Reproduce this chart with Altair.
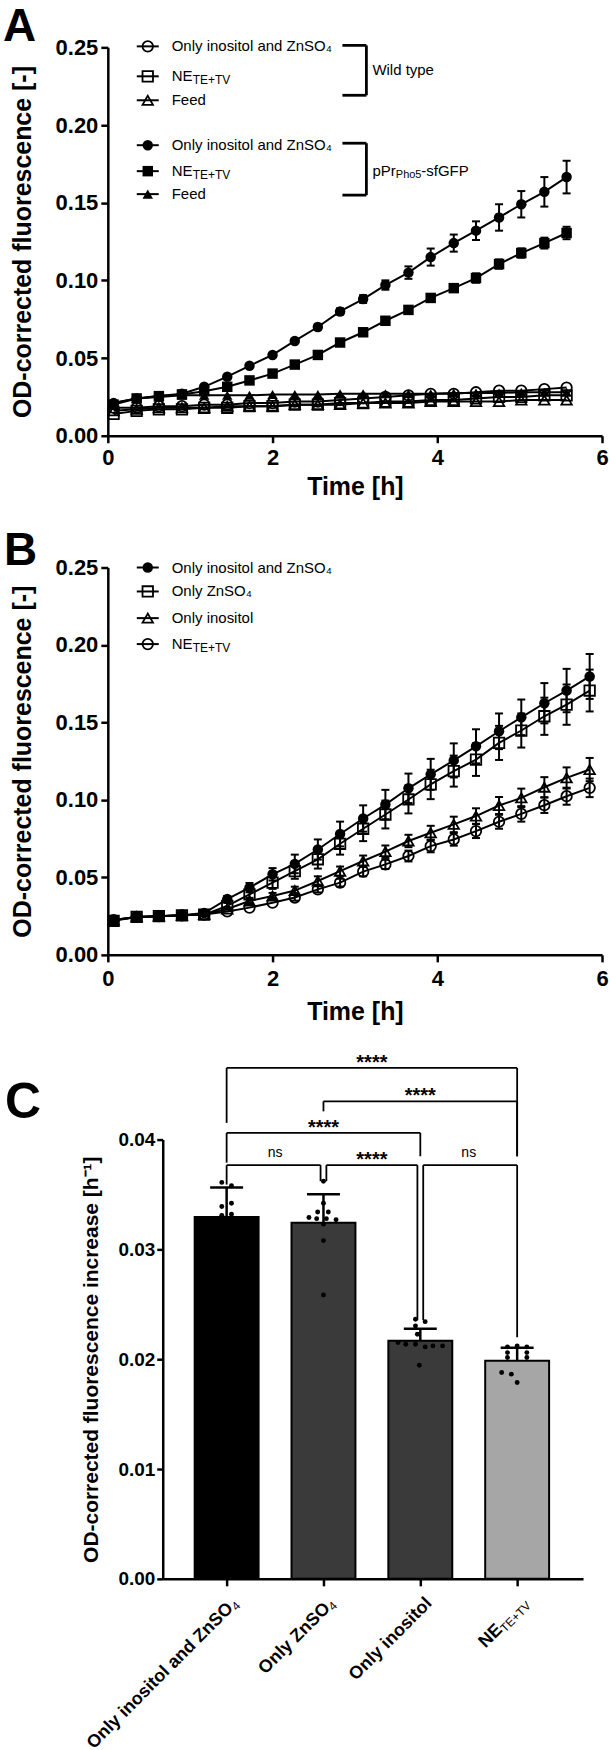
import altair as alt
import pandas as pd

FONT = "Liberation Sans"
INK = "#000000"
CAP = "M-1,0L1,0"

# ---------------- Panel A data ----------------
times_a = [0.07, 0.35, 0.62, 0.90, 1.17, 1.45, 1.72, 2.00, 2.27, 2.55, 2.82,
           3.10, 3.37, 3.65, 3.92, 4.20, 4.47, 4.75, 5.02, 5.30, 5.57]
a_keys = ["wt_iz", "wt_ne", "wt_feed", "gfp_iz", "gfp_ne", "gfp_feed"]
a_shapes = ["circle", "square", "triangle-up", "circle", "square", "triangle-up"]
a_filled = [False, False, False, True, True, True]
a_wt_iz = [0.018, 0.018, 0.019, 0.019, 0.020, 0.020, 0.021, 0.021, 0.022, 0.022, 0.023,
           0.024, 0.025, 0.026, 0.027, 0.027, 0.028, 0.029, 0.029, 0.030, 0.031]
a_wt_ne = [0.014, 0.016, 0.017, 0.017, 0.018, 0.018, 0.019, 0.019, 0.020, 0.020, 0.021,
           0.021, 0.022, 0.022, 0.023, 0.023, 0.024, 0.025, 0.025, 0.026, 0.026]
a_wt_feed = [0.016, 0.017, 0.018, 0.018, 0.018, 0.019, 0.019, 0.019, 0.020, 0.020, 0.020,
             0.021, 0.021, 0.021, 0.022, 0.022, 0.022, 0.022, 0.023, 0.023, 0.023]
a_gfp_iz = [0.021, 0.024, 0.0255, 0.027, 0.0315, 0.038, 0.045, 0.052, 0.061, 0.070, 0.080,
            0.088, 0.097, 0.105, 0.115, 0.124, 0.132, 0.1405, 0.149, 0.157, 0.1665]
a_gfp_ne = [0.020, 0.024, 0.0255, 0.0266, 0.0287, 0.0315, 0.0356, 0.040, 0.0458, 0.052, 0.060,
            0.0666, 0.074, 0.081, 0.0887, 0.095, 0.1015, 0.1105, 0.1176, 0.124, 0.1305]
a_gfp_feed = [0.021, 0.024, 0.025, 0.026, 0.026, 0.026, 0.026, 0.0265, 0.0265, 0.0265, 0.027,
              0.027, 0.027, 0.027, 0.027, 0.0275, 0.0275, 0.0275, 0.028, 0.028, 0.028]
a_err_wt = [0.0008, 0.0008, 0.0008, 0.0008, 0.0008, 0.0008, 0.0008, 0.0008, 0.0008, 0.0008, 0.0008,
            0.0008, 0.0008, 0.0008, 0.0008, 0.0008, 0.0008, 0.0008, 0.0008, 0.0008, 0.0008]
a_err_gfp_iz = [0.001, 0.001, 0.001, 0.001, 0.001, 0.001, 0.001, 0.0015, 0.0015, 0.002, 0.002,
                0.0025, 0.003, 0.004, 0.0055, 0.0055, 0.006, 0.0085, 0.0085, 0.0095, 0.0105]
a_err_gfp_ne = [0.001, 0.001, 0.001, 0.001, 0.001, 0.001, 0.001, 0.001, 0.001, 0.0015, 0.0015,
                0.0015, 0.002, 0.002, 0.002, 0.0025, 0.003, 0.003, 0.003, 0.0035, 0.004]

# ---------------- Panel B data ----------------
times_b = [0.07, 0.35, 0.62, 0.90, 1.17, 1.45, 1.72, 2.00, 2.27, 2.55, 2.82,
           3.10, 3.37, 3.65, 3.92, 4.20, 4.47, 4.75, 5.02, 5.30, 5.57, 5.85]
b_keys = ["iz", "zn", "inos", "ne"]
b_shapes = ["circle", "square", "triangle-up", "circle"]
b_filled = [True, False, False, False]
b_iz = [0.0225, 0.0245, 0.025, 0.0255, 0.027, 0.036, 0.0434, 0.052, 0.0587, 0.068, 0.078,
        0.088, 0.097, 0.1075, 0.1165, 0.1255, 0.1346, 0.1443, 0.1533, 0.1624, 0.1706, 0.1797]
b_zn = [0.022, 0.0245, 0.025, 0.0255, 0.026, 0.0316, 0.039, 0.0466, 0.0541, 0.0617, 0.0717,
        0.0814, 0.0906, 0.1003, 0.11, 0.1186, 0.126, 0.1368, 0.1448, 0.154, 0.1615, 0.1706]
b_inos = [0.0225, 0.0245, 0.025, 0.0255, 0.026, 0.0296, 0.0348, 0.038, 0.0415, 0.0477, 0.054,
          0.0606, 0.0666, 0.0735, 0.0788, 0.0842, 0.0896, 0.0964, 0.1013, 0.1082, 0.1142, 0.1196]
b_ne = [0.0225, 0.0245, 0.025, 0.0255, 0.026, 0.028, 0.0305, 0.0337, 0.037, 0.0423, 0.0466,
        0.0537, 0.0584, 0.0638, 0.0702, 0.0745, 0.0799, 0.0859, 0.091, 0.0966, 0.1024, 0.1078]
b_err_iz = [0.001, 0.001, 0.001, 0.001, 0.001, 0.002, 0.003, 0.004, 0.006, 0.0065, 0.008,
            0.0085, 0.0095, 0.0095, 0.01, 0.011, 0.011, 0.0115, 0.0115, 0.013, 0.014, 0.0145]
b_err_zn = [0.001, 0.001, 0.001, 0.001, 0.001, 0.002, 0.003, 0.004, 0.005, 0.006, 0.007,
            0.008, 0.009, 0.009, 0.0095, 0.01, 0.0105, 0.011, 0.011, 0.012, 0.013, 0.0135]
b_err_inos = [0.001, 0.001, 0.001, 0.001, 0.001, 0.0015, 0.002, 0.002, 0.0025, 0.003, 0.003,
              0.0035, 0.004, 0.004, 0.0045, 0.005, 0.005, 0.0055, 0.006, 0.0065, 0.0068, 0.0075]
b_err_ne = [0.001, 0.001, 0.001, 0.001, 0.001, 0.001, 0.0015, 0.0015, 0.002, 0.002, 0.0025,
            0.003, 0.003, 0.0035, 0.004, 0.004, 0.0045, 0.0045, 0.005, 0.005, 0.0055, 0.006]

# ---------------- Panel C data ----------------
c_pos = [0, 1, 2, 3]
c_main_labels = ["Only inositol and ZnSO", "Only ZnSO", "Only inositol", "NE"]
c_sub_labels = ["4", "4", "", "TE+TV"]
c_mean = [0.03294, 0.03243, 0.02167, 0.01985]
c_sd = [0.0027, 0.0026, 0.0011, 0.0012]
c_fill = ["#000000", "#3a3a3a", "#3a3a3a", "#a6a6a6"]
c_pt_group = [0, 0, 0, 0, 0, 0,
              1, 1, 1, 1, 1, 1, 1, 1, 1, 1, 1,
              2, 2, 2, 2, 2, 2, 2, 2, 2, 2, 2,
              3, 3, 3, 3, 3, 3, 3, 3, 3, 3]
c_pt_jit = [-0.05, 0.05, -0.05, 0.05, -0.05, 0.05,
            0.0, 0.0, -0.06, 0.05, -0.15, -0.07, 0.03, 0.13, 0.0, 0.0, 0.0,
            -0.05, 0.05, -0.05, -0.03, -0.23, -0.15, -0.05, 0.05, 0.13, 0.23, -0.01,
            -0.1, 0.0, 0.1, -0.1, 0.1, -0.1, 0.1, -0.16, -0.06, 0.0]
c_pt_val = [0.0361, 0.0358, 0.0339, 0.0342, 0.0331, 0.0332,
            0.0362, 0.0342, 0.0334, 0.0334, 0.0329, 0.0328, 0.0328, 0.0327, 0.0323, 0.0308, 0.02585,
            0.02364, 0.02342, 0.02303, 0.02227, 0.02152, 0.02136, 0.02136, 0.02112, 0.02121, 0.02121, 0.01945,
            0.02112, 0.0212, 0.02112, 0.0206, 0.0206, 0.02015, 0.02015, 0.01879, 0.01864, 0.01788]
# significance brackets: groups compared, heights
br_from = [0, 1, 0, 0, 1, 2]
br_to = [3, 3, 2, 1, 2, 3]
br_in_l = [0, 0, 0, 0, 0.03, 0.03]
br_in_r = [0, 0, 0, 0.03, 0.03, 0]
br_top = [0.04652, 0.04348, 0.04061, 0.03767, 0.03767, 0.03767]
br_left_end = [0.04152, 0.04257, 0.0379, 0.0359, 0.03621, 0.02355]
br_right_end = [0.03848, 0.03848, 0.03848, 0.03621, 0.02355, 0.0220]
br_text = ["****", "****", "****", "ns", "****", "ns"]

ONE = pd.DataFrame({"k": [0]})


def txt(text, x, y, size, weight="normal", align="left", baseline="middle",
        angle=0, dx=0, dy=0, use_datum=False):
    if use_datum:
        ex, ey = alt.XDatum(x), alt.YDatum(y)
    else:
        ex, ey = alt.value(x), alt.value(y)
    return alt.Chart(ONE).mark_text(
        font=FONT, fontSize=size, fontWeight=weight, align=align, baseline=baseline,
        angle=angle, dx=dx, dy=dy, color=INK
    ).encode(x=ex, y=ey, text=alt.value(text))


def seg(x1, y1, x2, y2, w=2.8):
    return alt.Chart(ONE).mark_rule(color=INK, strokeWidth=w).encode(
        x=alt.value(x1), x2=alt.value(x2), y=alt.value(y1), y2=alt.value(y2))


def sym(shape, filled, x, y):
    return alt.Chart(ONE).mark_point(
        shape=shape, filled=filled, size=110, color=INK, strokeWidth=1.8, opacity=1
    ).encode(x=alt.value(x), y=alt.value(y))


def series_df(times, keys, vals, errs, filled):
    rows = []
    for k, vs, es, f in zip(keys, vals, errs, filled):
        for t, v, e in zip(times, vs, es):
            rows.append(dict(t=t, v=v, lo=v - e, hi=v + e, key=k, filled=f))
    return pd.DataFrame(rows)


def legend_rows(labels, subs, shapes, filled, ys):
    out = []
    for lab, sub, shp, f, y in zip(labels, subs, shapes, filled, ys):
        out.append(seg(29, y, 51, y, 2))
        out.append(sym(shp, f, 40, y))
        out.append(txt(lab, 64, y, 15))
        if sub:
            out.append(txt(sub, 85, y + 4, 12))
    return out


def line_panel(df, keys, shapes, height, xpad, xtitle_y, decorations):
    xsc = alt.Scale(domain=[0, 6], nice=False, zero=False)
    ysc = alt.Scale(domain=[0, 0.25], nice=False)
    common = dict(grid=False, labelFont=FONT, labelFontWeight="bold", labelColor=INK,
                  labelFlush=False, tickWidth=2.5, tickColor=INK, tickSize=7,
                  domainColor=INK, domainWidth=2.5, titleFont=FONT, titleFontWeight="bold",
                  titleColor=INK, titleFontSize=25, titleBaseline="middle", titleAlign="center")
    xax = alt.Axis(values=[0, 2, 4, 6], format="d", title="Time [h]", labelFontSize=22,
                   labelPadding=xpad, titleX=247.5, titleY=xtitle_y, **common)
    yax = alt.Axis(values=[0, 0.05, 0.10, 0.15, 0.20, 0.25], format=".2f",
                   title="OD-corrected fluorescence [-]", labelFontSize=22, labelPadding=3,
                   titleX=-85, titleY=height / 2, titleAngle=270, **common)
    base = alt.Chart(df)
    shape_enc = alt.Shape("key:N", scale=alt.Scale(domain=keys, range=shapes), legend=None)
    lines = base.mark_line(color=INK, strokeWidth=2).encode(
        x=alt.X("t:Q", scale=xsc, axis=xax), y=alt.Y("v:Q", scale=ysc, axis=yax), detail="key:N")
    big = base.transform_filter("datum.hi - datum.lo > 0.0035")
    err = big.mark_rule(color=INK, strokeWidth=2).encode(x="t:Q", y="lo:Q", y2="hi:Q")
    cap_hi = big.mark_point(shape=CAP, size=64, filled=False, color=INK, strokeWidth=2,
                            opacity=1).encode(x="t:Q", y="hi:Q")
    cap_lo = big.mark_point(shape=CAP, size=64, filled=False, color=INK, strokeWidth=2,
                            opacity=1).encode(x="t:Q", y="lo:Q")
    open_pts = base.transform_filter("!datum.filled").mark_point(
        filled=False, size=110, color=INK, strokeWidth=1.8, opacity=1
    ).encode(x="t:Q", y="v:Q", shape=shape_enc)
    fill_pts = base.transform_filter("datum.filled").mark_point(
        filled=True, size=110, color=INK, opacity=1
    ).encode(x="t:Q", y="v:Q", shape=shape_enc)
    return alt.layer(lines, err, cap_hi, cap_lo, open_pts, fill_pts, *decorations).properties(
        width=495, height=height)


# ---------------- Panel A ----------------
df_a = series_df(times_a, a_keys,
                 [a_wt_iz, a_wt_ne, a_wt_feed, a_gfp_iz, a_gfp_ne, a_gfp_feed],
                 [a_err_wt, a_err_wt, a_err_wt, a_err_gfp_iz, a_err_gfp_ne, a_err_wt],
                 a_filled)
a_leg_labels = ["Only inositol and ZnSO₄", "NE", "Feed", "Only inositol and ZnSO₄", "NE", "Feed"]
a_leg_subs = ["", "TE+TV", "", "", "TE+TV", ""]
deco_a = [txt("A", -105, -6, 46, "bold", baseline="alphabetic")]
deco_a += legend_rows(a_leg_labels, a_leg_subs, a_shapes, a_filled, [-1, 29, 53, 98, 124, 147])
deco_a += [seg(235, -2, 259, -2), seg(259, -2, 259, 48), seg(235, 48, 259, 48),
           seg(235, 96, 259, 96), seg(259, 96, 259, 148), seg(235, 148, 259, 148),
           txt("Wild type", 265, 23, 15),
           txt("pPr", 265, 124, 15), txt("Pho5", 288.5, 128, 11), txt("-sfGFP", 314, 124, 15)]
panel_a = line_panel(df_a, a_keys, a_shapes, 389, 4.5, 50.5, deco_a)

# ---------------- Panel B ----------------
df_b = series_df(times_b, b_keys, [b_iz, b_zn, b_inos, b_ne],
                 [b_err_iz, b_err_zn, b_err_inos, b_err_ne], b_filled)
b_leg_labels = ["Only inositol and ZnSO₄", "Only ZnSO₄", "Only inositol", "NE"]
b_leg_subs = ["", "", "", "TE+TV"]
deco_b = [txt("B", -104, -3, 46, "bold", baseline="alphabetic")]
deco_b += legend_rows(b_leg_labels, b_leg_subs, b_shapes, b_filled, [0, 24, 50.7, 76.7])
panel_b = line_panel(df_b, b_keys, b_shapes, 388, 7, 56.5, deco_b)

# ---------------- Panel C ----------------
xsc_c = alt.Scale(domain=[-0.6598, 3.6804], range=[55, 476], nice=False, zero=False)
ysc_c = alt.Scale(domain=[0, 0.04], nice=False)
xax_c = alt.Axis(values=[0, 1, 2, 3], labels=False, title="", grid=False, tickSize=7,
                 tickWidth=2.5, tickColor=INK, domainColor=INK, domainWidth=2.5)
yax_c = alt.Axis(values=[0, 0.01, 0.02, 0.03, 0.04], format=".2f", offset=-55, grid=False,
                 labelFont=FONT, labelFontSize=19, labelFontWeight="bold", labelColor=INK,
                 labelPadding=2, tickSize=6, tickWidth=2.5, tickColor=INK,
                 domainColor=INK, domainWidth=2.5,
                 title="OD-corrected fluorescence increase [h⁻¹]", titleFont=FONT,
                 titleFontSize=21, titleFontWeight="bold", titleColor=INK,
                 titleX=-71.5, titleY=220, titleAngle=270, titleBaseline="middle",
                 titleAlign="center")

df_c = pd.DataFrame({"pos": c_pos, "mean": c_mean, "sd": c_sd, "fill": c_fill})
bars = alt.Chart(df_c).transform_calculate(
    x1="datum.pos - 0.33", x2="datum.pos + 0.33", zero="0"
).mark_rect(stroke=INK, strokeWidth=2).encode(
    x=alt.X("x1:Q", scale=xsc_c, axis=xax_c), x2="x2:Q",
    y=alt.Y("mean:Q", scale=ysc_c, axis=yax_c), y2="zero:Q",
    color=alt.Color("fill:N", scale=None))
err_c = alt.Chart(df_c).transform_calculate(top="datum.mean + datum.sd").mark_rule(
    color=INK, strokeWidth=2.5).encode(x="pos:Q", y="mean:Q", y2="top:Q")
cap_c = alt.Chart(df_c).transform_calculate(top="datum.mean + datum.sd").mark_point(
    shape=CAP, size=1089, filled=False, color=INK, strokeWidth=2.5, opacity=1
).encode(x="pos:Q", y="top:Q")

df_pts = pd.DataFrame({"g": c_pt_group, "j": c_pt_jit, "v": c_pt_val})
pts_c = alt.Chart(df_pts).transform_calculate(px="datum.g + datum.j").mark_circle(
    size=24, color=INK, opacity=1).encode(x="px:Q", y="v:Q")

df_br = pd.DataFrame({"a": br_from, "b": br_to, "il": br_in_l, "ir": br_in_r,
                      "top": br_top, "le": br_left_end, "re": br_right_end, "lab": br_text})
br_base = alt.Chart(df_br).transform_calculate(
    xa="datum.a + datum.il", xb="datum.b - datum.ir", xm="(datum.a + datum.b) / 2")
br_h = br_base.mark_rule(color=INK, strokeWidth=1.8).encode(x="xa:Q", x2="xb:Q", y="top:Q")
br_l = br_base.mark_rule(color=INK, strokeWidth=1.8).encode(x="xa:Q", y="top:Q", y2="le:Q")
br_r = br_base.mark_rule(color=INK, strokeWidth=1.8).encode(x="xb:Q", y="top:Q", y2="re:Q")
br_star = br_base.transform_filter("datum.lab == '****'").mark_text(
    font=FONT, fontSize=20, fontWeight="bold", align="center", baseline="alphabetic",
    dy=1, color=INK).encode(x="xm:Q", y="top:Q", text="lab:N")
br_ns = br_base.transform_filter("datum.lab == 'ns'").mark_text(
    font=FONT, fontSize=14, align="center", baseline="alphabetic", dy=-8, color=INK
).encode(x="xm:Q", y="top:Q", text="lab:N")

# rotated category labels (angle -45 deg), anchored below each tick
DX0, DY0 = -9.2, 21.9
c_sub_w = [7.0, 7.0, 0, 37.5]
c_sub_size = [12, 12, 12, 12]
lab_layers = []
for p, main, sub, w, ss in zip(c_pos, c_main_labels, c_sub_labels, c_sub_w, c_sub_size):
    lab_layers.append(txt(main, p, 0, 18, "bold", align="right", baseline="middle",
                          angle=315, dx=DX0 - w, dy=DY0, use_datum=True))
    if sub:
        lab_layers.append(txt(sub, p, 0, ss, "normal", align="right", baseline="middle",
                              angle=315, dx=DX0, dy=DY0 + 4, use_datum=True))

letter_c = txt("C", -103, -22, 50, "bold", baseline="alphabetic")

panel_c = alt.layer(bars, err_c, cap_c, pts_c, br_h, br_l, br_r, br_star, br_ns,
                    letter_c, *lab_layers).properties(width=476, height=440)

chart = alt.vconcat(panel_a, panel_b, panel_c, spacing=27).properties(
    padding={"left": 2, "top": 2, "right": 0, "bottom": 0}
).configure_view(stroke="transparent")

chart.save("out.html", embed_options={"renderer": "svg", "actions": False})
